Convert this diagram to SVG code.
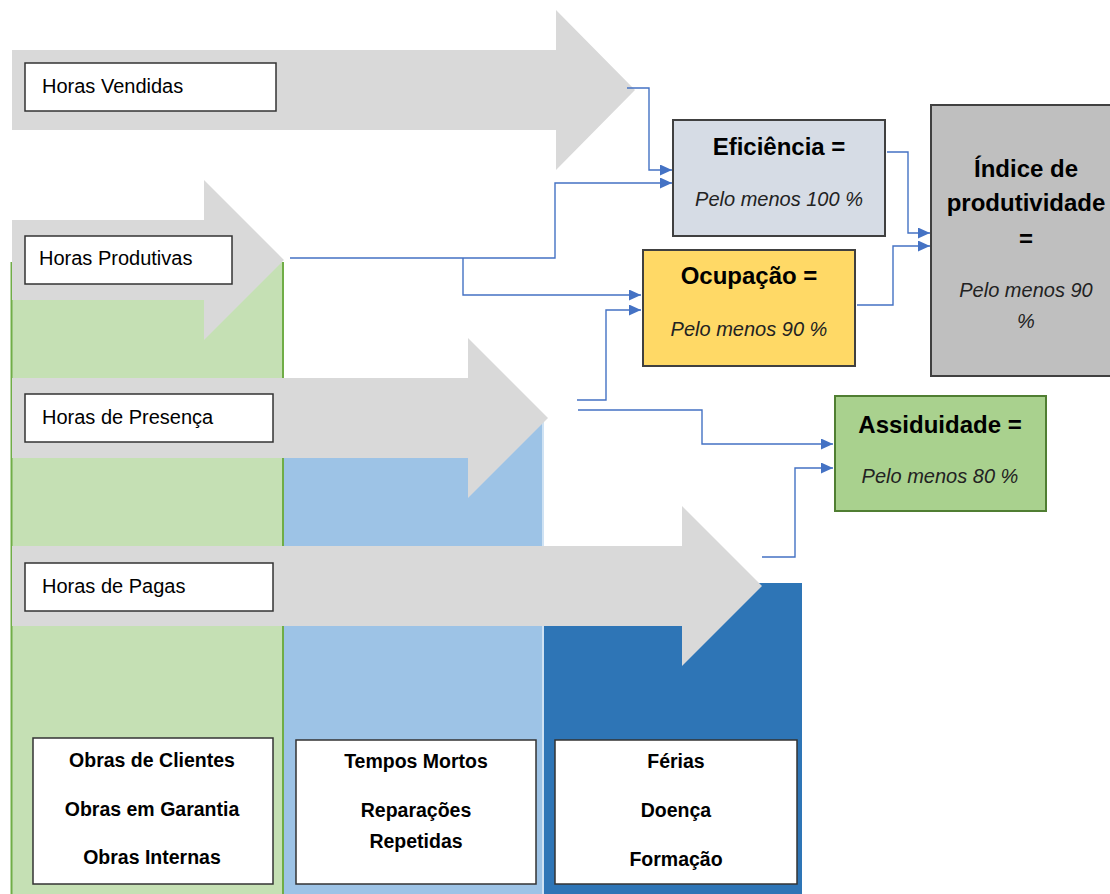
<svg xmlns="http://www.w3.org/2000/svg" width="1110" height="894" viewBox="0 0 1110 894">
<defs>
<marker id="ah" markerUnits="userSpaceOnUse" markerWidth="12" markerHeight="11" refX="12" refY="5.5" orient="auto">
<path d="M0,0 L12,5.5 L0,11 z" fill="#4472c4"/>
</marker>
<style>
text{font-family:"Liberation Sans",Arial,sans-serif;fill:#000}
.lbl{font-size:20px}
.ttl{font-size:24px;font-weight:bold;text-anchor:middle}
.sub{font-size:20px;font-style:italic;text-anchor:middle;fill:#222}
.bt{font-size:19.5px;font-weight:bold;text-anchor:middle}
.arrow{fill:#d9d9d9}
.wbox{fill:#fff;stroke:#333;stroke-width:1.5}
.con{fill:none;stroke:#4472c4;stroke-width:1.4;marker-end:url(#ah)}
</style>
</defs>
<rect width="1110" height="894" fill="#fff"/>

<g id="columns">
<rect x="11" y="262" width="272" height="632" fill="#c5e0b4"/>
<line x1="11.5" y1="262" x2="11.5" y2="894" stroke="#70ad47" stroke-width="2"/>
<rect x="284" y="418" width="259" height="476" fill="#9dc3e6"/>
<line x1="543" y1="418" x2="543" y2="894" stroke="#cfe2f3" stroke-width="2"/>
<rect x="544" y="583" width="258" height="311" fill="#2e75b6"/>
<line x1="283" y1="262" x2="283" y2="894" stroke="#70ad47" stroke-width="2"/>
</g>

<g id="horas-vendidas">
<polygon class="arrow" points="12,50 556,50 556,10 635,90 556,170 556,130 12,130"/>
<rect class="wbox" x="25" y="63" width="251" height="48"/>
<text class="lbl" x="42" y="93">Horas Vendidas</text>
</g>

<g id="horas-produtivas">
<polygon class="arrow" points="12,220 204,220 204,180 284,260 204,340 204,300 12,300"/>
<rect class="wbox" x="25" y="236" width="207" height="48"/>
<text class="lbl" x="39" y="265">Horas Produtivas</text>
</g>

<g id="horas-presenca">
<polygon class="arrow" points="12,378 468,378 468,338 548,418 468,498 468,458 12,458"/>
<rect class="wbox" x="25" y="394" width="248" height="48"/>
<text class="lbl" x="42" y="424">Horas de Presença</text>
</g>

<g id="horas-pagas">
<polygon class="arrow" points="12,546 682,546 682,506 762,586 682,666 682,626 12,626"/>
<rect class="wbox" x="25" y="563" width="248" height="48"/>
<text class="lbl" x="42" y="593">Horas de Pagas</text>
</g>

<g id="eficiencia">
<rect x="673" y="120" width="212" height="116" fill="#d6dce5" stroke="#404040" stroke-width="2"/>
<text class="ttl" x="779" y="155">Eficiência =</text>
<text class="sub" x="779" y="206">Pelo menos 100 %</text>
</g>

<g id="ocupacao">
<rect x="643" y="250" width="212" height="116" fill="#ffd966" stroke="#404040" stroke-width="2"/>
<text class="ttl" x="749" y="284">Ocupação =</text>
<text class="sub" x="749" y="336">Pelo menos 90 %</text>
</g>

<g id="indice">
<rect x="931" y="105" width="185" height="271" fill="#bfbfbf" stroke="#404040" stroke-width="2"/>
<text class="ttl" x="1026" y="177">Índice de</text>
<text class="ttl" x="1026" y="211">produtividade</text>
<text class="ttl" x="1026" y="247">=</text>
<text class="sub" x="1026" y="297">Pelo menos 90</text>
<text class="sub" x="1026" y="328">%</text>
</g>

<g id="assiduidade">
<rect x="835" y="396" width="211" height="115" fill="#a9d18e" stroke="#507e32" stroke-width="2"/>
<text class="ttl" x="940" y="433">Assiduidade =</text>
<text class="sub" x="940" y="483">Pelo menos 80 %</text>
</g>

<g id="produtivas-lista">
<rect class="wbox" x="33" y="738" width="240" height="146"/>
<text class="bt" x="152" y="767">Obras de Clientes</text>
<text class="bt" x="152" y="816">Obras em Garantia</text>
<text class="bt" x="152" y="864">Obras Internas</text>
</g>

<g id="mortos-lista">
<rect class="wbox" x="296" y="740" width="240" height="144"/>
<text class="bt" x="416" y="768">Tempos Mortos</text>
<text class="bt" x="416" y="817">Reparações</text>
<text class="bt" x="416" y="848">Repetidas</text>
</g>

<g id="ausencias-lista">
<rect class="wbox" x="555" y="740" width="242" height="144"/>
<text class="bt" x="676" y="768">Férias</text>
<text class="bt" x="676" y="817">Doença</text>
<text class="bt" x="676" y="866">Formação</text>
</g>

<g id="connectors">
<polyline class="con" points="627,88 649,88 649,170 672,170"/>
<polyline class="con" points="290,258 555,258 555,183 672,183"/>
<polyline class="con" points="463,258 463,295 641,295"/>
<polyline class="con" points="577,400 606,400 606,310 641,310"/>
<polyline class="con" points="578,410 702,410 702,444 833,444"/>
<polyline class="con" points="762,557 795,557 795,468 833,468"/>
<polyline class="con" points="887,152 908,152 908,233 930,233"/>
<polyline class="con" points="857,305 893,305 893,246 930,246"/>
</g>
</svg>
